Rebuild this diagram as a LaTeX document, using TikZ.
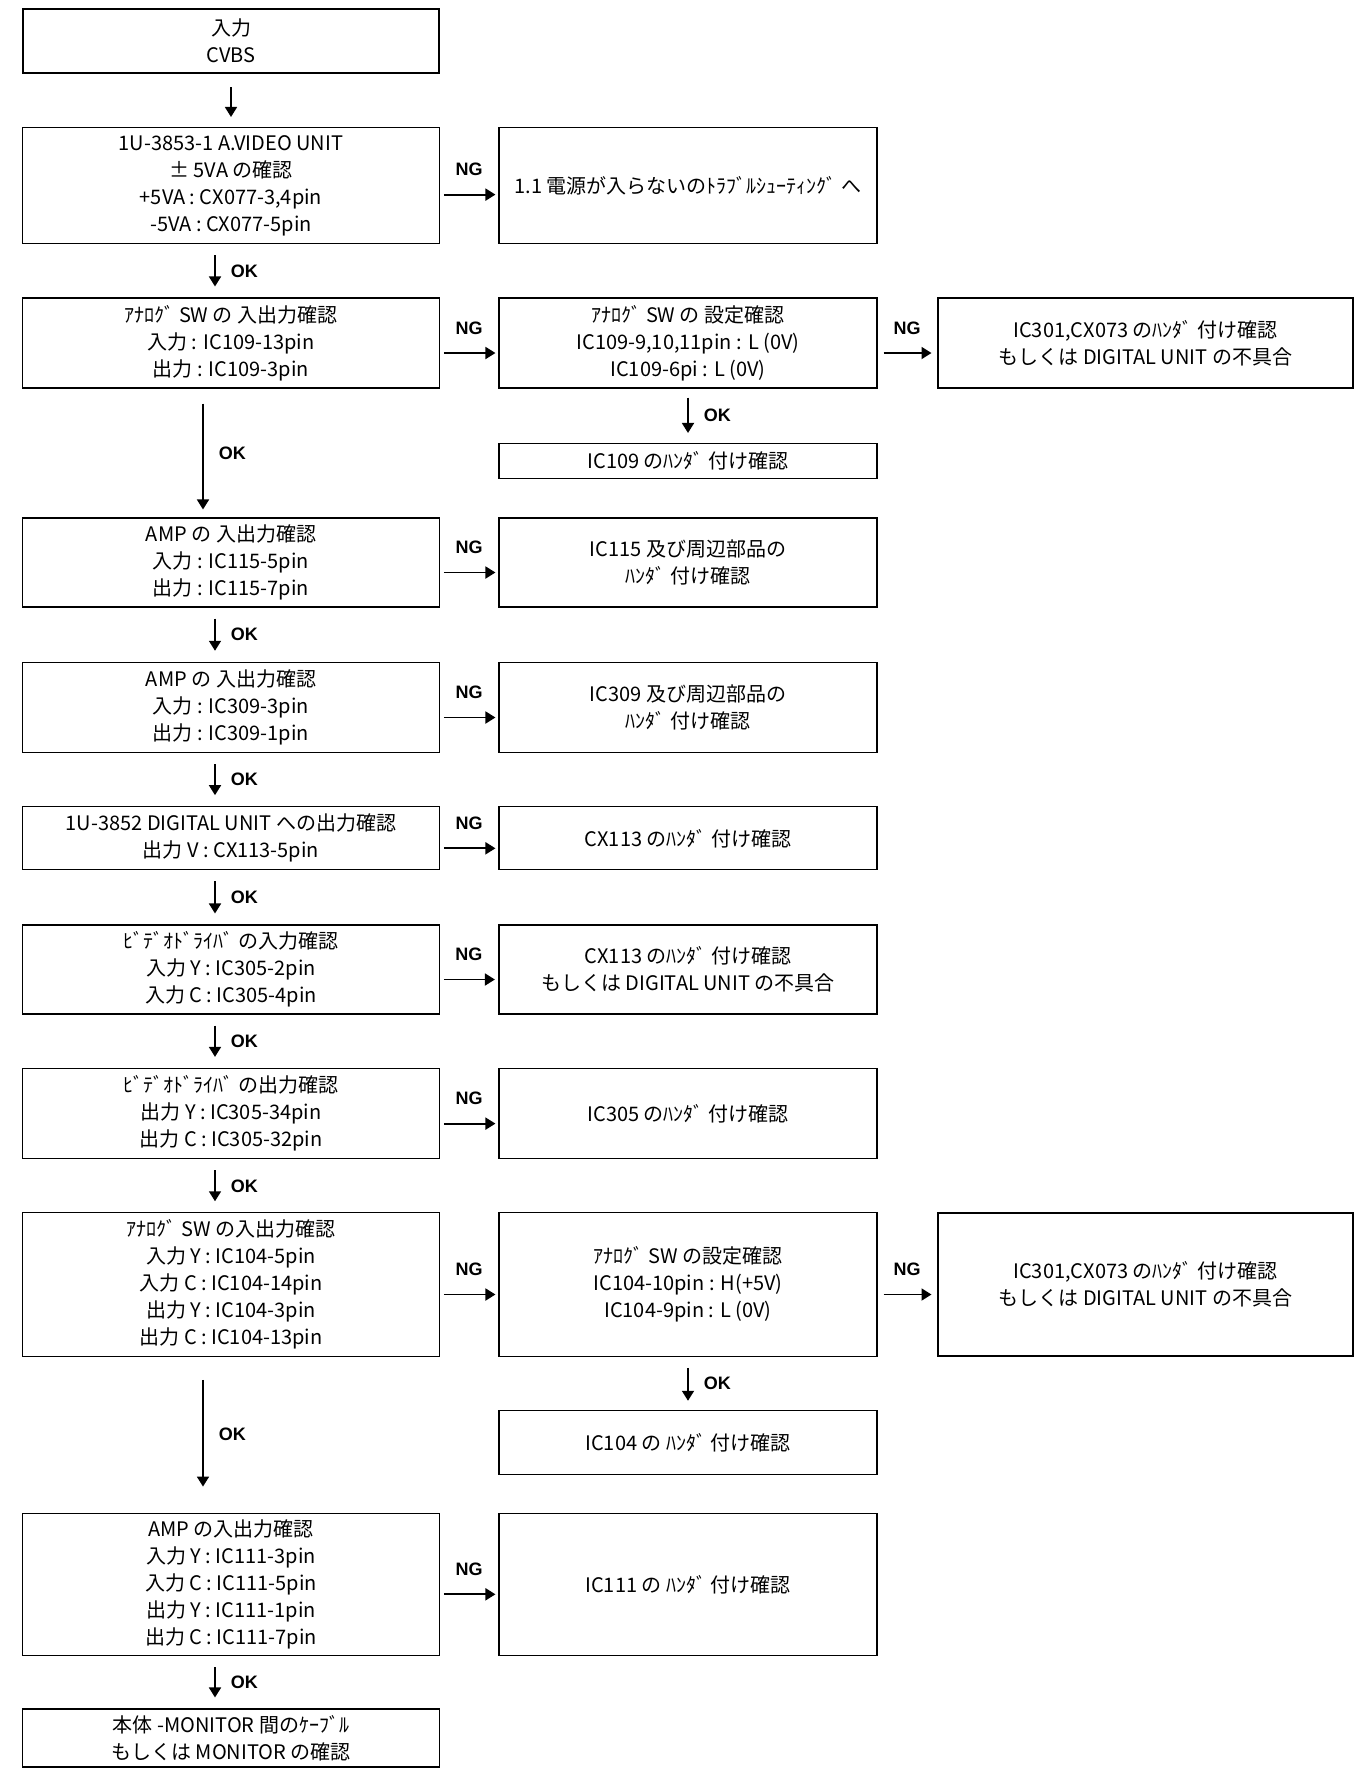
\documentclass[tikz,border=0pt]{standalone}
\usepackage{fontspec}
\setmainfont{Noto Sans CJK JP}
\newfontfamily\labfont{Liberation Sans}
\usetikzlibrary{arrows.meta}
\tikzset{
  box/.style={draw, line width=0.55pt, align=center, inner sep=0pt, font=\fontsize{10}{13.5}\selectfont},
  boxb/.style={box, line width=1.1pt},
  colL/.style={minimum width=208.2pt},
  colM/.style={minimum width=189pt},
  colR/.style={minimum width=207.7pt},
  arr/.style={line width=0.9pt, -{Triangle[length=5pt,width=6pt]}},
  lab/.style={font=\labfont\bfseries\fontsize{9}{10}\selectfont, inner sep=0pt},
  oklab/.style={lab, midway, anchor=west, xshift=7.5pt},
  nglab/.style={lab, midway, yshift=12.5pt},
  ngarr/.style={arr, shorten <=2pt, shorten >=1.5pt},
  ngarr2/.style={arr, shorten <=3pt, shorten >=2.5pt},
  okarr/.style={arr, shorten <=5.5pt, shorten >=5.5pt}
}
\begin{document}
\begin{tikzpicture}[x=0.5pt, y=-0.5pt]
\useasboundingbox (0,0) rectangle (1363,1769);

% Row 1
\node[boxb, colL, minimum height=32pt] (r1) at (231,41) {入力\\CVBS};
% Row 2
\node[box, colL, minimum height=58.1pt] (r2) at (231,185.6) {1U-3853-1 A.VIDEO UNIT\\± 5VA の確認\\+5VA : CX077-3,4pin\\-5VA : CX077-5pin};
\node[box, colM, minimum height=58.1pt] (r2m) at (688,185.6) {1.1 電源が入らないのﾄﾗﾌﾞﾙｼｭｰﾃｨﾝｸﾞ へ};
% Row 3
\node[box, colL, minimum height=45pt] (r3) at (231,343) {ｱﾅﾛｸﾞ SW の 入出力確認\\入力 : IC109-13pin\\出力 : IC109-3pin};
\node[box, colM, minimum height=45pt] (r3m) at (688,343) {ｱﾅﾛｸﾞ SW の 設定確認\\IC109-9,10,11pin : L (0V)\\IC109-6pi : L (0V)};
\node[boxb, colR, minimum height=45pt] (r3r) at (1145.3,343) {IC301,CX073 のﾊﾝﾀﾞ 付け確認\\もしくは DIGITAL UNIT の不具合};
\node[box, colM, minimum height=17.5pt] (ic109) at (688,461) {IC109 のﾊﾝﾀﾞ 付け確認};
% Row 4
\node[box, colL, minimum height=44.5pt] (r4) at (231,562.5) {AMP の 入出力確認\\入力 : IC115-5pin\\出力 : IC115-7pin};
\node[box, colM, minimum height=44.5pt] (r4m) at (688,562.5) {IC115 及び周辺部品の\\ﾊﾝﾀﾞ 付け確認};
% Row 5
\node[box, colL, minimum height=45.2pt] (r5) at (231,707.5) {AMP の 入出力確認\\入力 : IC309-3pin\\出力 : IC309-1pin};
\node[box, colM, minimum height=45.2pt] (r5m) at (688,707.5) {IC309 及び周辺部品の\\ﾊﾝﾀﾞ 付け確認};
% Row 6
\node[box, colL, minimum height=31.6pt] (r6) at (231,838.3) {1U-3852 DIGITAL UNIT への出力確認\\出力 V : CX113-5pin};
\node[box, colM, minimum height=31.6pt] (r6m) at (688,838.3) {CX113 のﾊﾝﾀﾞ 付け確認};
% Row 7
\node[box, colL, minimum height=44.5pt] (r7) at (231,969.5) {ﾋﾞﾃﾞｵﾄﾞﾗｲﾊﾞ の入力確認\\入力 Y : IC305-2pin\\入力 C : IC305-4pin};
\node[boxb, colM, minimum height=44.5pt] (r7m) at (688,969.5) {CX113 のﾊﾝﾀﾞ 付け確認\\もしくは DIGITAL UNIT の不具合};
% Row 8
\node[box, colL, minimum height=45.2pt] (r8) at (231,1113.6) {ﾋﾞﾃﾞｵﾄﾞﾗｲﾊﾞ の出力確認\\出力 Y : IC305-34pin\\出力 C : IC305-32pin};
\node[box, colM, minimum height=45.2pt] (r8m) at (688,1113.6) {IC305 のﾊﾝﾀﾞ 付け確認};
% Row 9
\node[box, colL, minimum height=71.7pt] (r9) at (231,1284.5) {ｱﾅﾛｸﾞ SW の入出力確認\\入力 Y : IC104-5pin\\入力 C : IC104-14pin\\出力 Y : IC104-3pin\\出力 C : IC104-13pin};
\node[box, colM, minimum height=71.7pt] (r9m) at (688,1284.5) {ｱﾅﾛｸﾞ SW の設定確認\\IC104-10pin : H(+5V)\\IC104-9pin : L (0V)};
\node[boxb, colR, minimum height=71.7pt] (r9r) at (1145.3,1284.5) {IC301,CX073 のﾊﾝﾀﾞ 付け確認\\もしくは DIGITAL UNIT の不具合};
\node[box, colM, minimum height=32.2pt] (ic104) at (688,1442.5) {IC104 の ﾊﾝﾀﾞ 付け確認};
% Row 10
\node[box, colL, minimum height=71.2pt] (r10) at (231,1584.3) {AMP の入出力確認\\入力 Y : IC111-3pin\\入力 C : IC111-5pin\\出力 Y : IC111-1pin\\出力 C : IC111-7pin};
\node[box, colM, minimum height=71.2pt] (r10m) at (688,1584.3) {IC111 の ﾊﾝﾀﾞ 付け確認};
% Row 11
\node[box, colL, minimum height=29pt] (r11) at (231,1738) {本体 -MONITOR 間のｹｰﾌﾞﾙ\\もしくは MONITOR の確認};

% Vertical arrows
\draw[arr, shorten <=6.5pt, shorten >=5pt] (r1) -- (r2);
\draw[okarr] ([xshift=-8pt]r2.south) -- ([xshift=-8pt]r3.north) node[oklab] {OK};
\draw[arr, shorten <=7.5pt, shorten >=4pt] ([xshift=-14pt]r3.south) -- ([xshift=-14pt]r4.north) node[oklab] {OK};
\draw[arr, shorten <=4.5pt, shorten >=5pt] (r3m) -- (ic109) node[oklab] {OK};
\draw[okarr] ([xshift=-8pt]r4.south) -- ([xshift=-8pt]r5.north) node[oklab] {OK};
\draw[okarr] ([xshift=-8pt]r5.south) -- ([xshift=-8pt]r6.north) node[oklab] {OK};
\draw[okarr] ([xshift=-8pt]r6.south) -- ([xshift=-8pt]r7.north) node[oklab] {OK};
\draw[okarr] ([xshift=-8pt]r7.south) -- ([xshift=-8pt]r8.north) node[oklab] {OK};
\draw[okarr] ([xshift=-8pt]r8.south) -- ([xshift=-8pt]r9.north) node[oklab] {OK};
\draw[arr, shorten <=5.5pt, shorten >=4.5pt] (r9m) -- (ic104) node[oklab] {OK};
\draw[arr, shorten <=11.5pt, shorten >=13pt] ([xshift=-14pt]r9.south) -- ([xshift=-14pt]r10.north) node[oklab] {OK};
\draw[okarr] ([xshift=-8pt]r10.south) -- ([xshift=-8pt]r11.north) node[oklab] {OK};

% Horizontal NG arrows
\draw[ngarr] ([yshift=-4.5pt]r2.east) -- ([yshift=-4.5pt]r2m.west) node[nglab] {NG};
\draw[ngarr] ([yshift=-5pt]r3.east) -- ([yshift=-5pt]r3m.west) node[nglab] {NG};
\draw[ngarr2] ([yshift=-5pt]r3m.east) -- ([yshift=-5pt]r3r.west) node[nglab] {NG};
\draw[ngarr] ([yshift=-5pt]r4.east) -- ([yshift=-5pt]r4m.west) node[nglab] {NG};
\draw[ngarr] ([yshift=-5pt]r5.east) -- ([yshift=-5pt]r5m.west) node[nglab] {NG};
\draw[ngarr] ([yshift=-5pt]r6.east) -- ([yshift=-5pt]r6m.west) node[nglab] {NG};
\draw[ngarr] ([yshift=-5pt]r7.east) -- ([yshift=-5pt]r7m.west) node[nglab] {NG};
\draw[ngarr] ([yshift=-5pt]r8.east) -- ([yshift=-5pt]r8m.west) node[nglab] {NG};
\draw[ngarr] ([yshift=-5pt]r9.east) -- ([yshift=-5pt]r9m.west) node[nglab] {NG};
\draw[ngarr2] ([yshift=-5pt]r9m.east) -- ([yshift=-5pt]r9r.west) node[nglab] {NG};
\draw[ngarr] ([yshift=-5pt]r10.east) -- ([yshift=-5pt]r10m.west) node[nglab] {NG};
\end{tikzpicture}
\end{document}
